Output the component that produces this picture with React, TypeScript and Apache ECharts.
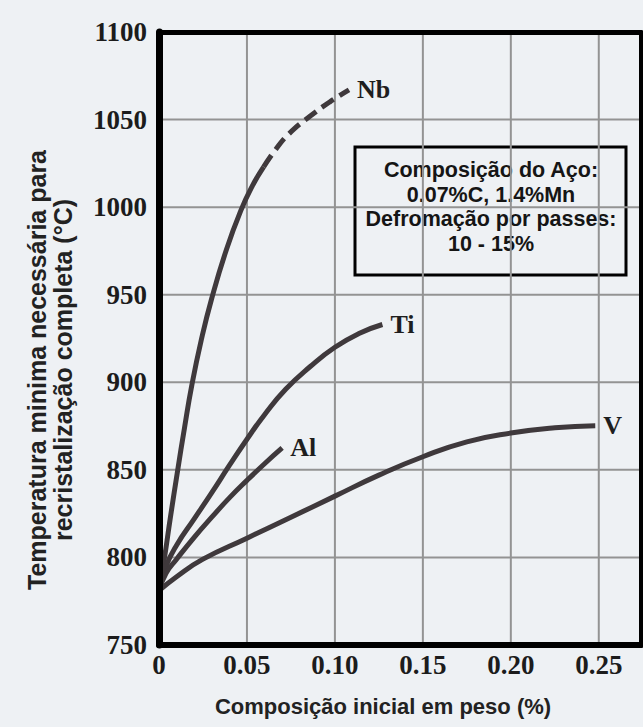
import { useEffect, useRef } from 'react';
import * as echarts from 'echarts';

// Composição inicial (% em peso) x temperatura mínima de recristalização (°C)
const nbSolid: [number, number][] = [
  [0, 781], [0.003, 799], [0.0065, 823], [0.0105, 849], [0.0145, 874], [0.0186, 898],
  [0.024, 924], [0.03, 948], [0.0384, 976], [0.0465, 998], [0.053, 1012], [0.0595, 1023],
];
const nbDashed: [number, number][] = [
  [0.0595, 1023], [0.066, 1032.5], [0.074, 1042], [0.086, 1052], [0.097, 1060], [0.108, 1067],
];
const tiCurve: [number, number][] = [
  [0, 781], [0.004, 795], [0.01, 807], [0.02, 822], [0.03, 837], [0.04, 852.5], [0.05, 867.5],
  [0.06, 881.5], [0.072, 896], [0.086, 909], [0.1, 920], [0.114, 928], [0.127, 933],
];
const alCurve: [number, number][] = [
  [0, 781], [0.004, 791], [0.01, 799], [0.02, 811.5], [0.03, 823], [0.04, 834], [0.05, 844],
  [0.06, 853.5], [0.07, 862.5],
];
const vCurve: [number, number][] = [
  [0, 781], [0.01, 789], [0.025, 799], [0.05, 811], [0.075, 823], [0.1, 835], [0.125, 847],
  [0.15, 857.5], [0.175, 866], [0.2, 871], [0.225, 874], [0.248, 875.2],
];

const xTickLabels = ['0', '0.05', '0.10', '0.15', '0.20', '0.25'];
const xGridValues = [0.05, 0.1, 0.15, 0.2, 0.25];
const yGridValues = [800, 850, 900, 950, 1000, 1050];
const xTitle = 'Composição inicial em peso (%)';
const yTitleLines = ['Temperatura minima necessária para', 'recristalização completa (°C)'];
const noteLines = ['Composição do Aço:', '0.07%C, 1.4%Mn', 'Defromação por passes:', '10 - 15%'];

const X_MIN = 0;
const X_MAX = 0.274;
const Y_MIN = 750;
const Y_MAX = 1100;

const BG = '#eef1f4';
const INK = '#3f393c';
const GRID_GRAY = '#939393';
const SERIF = '"Liberation Serif", "Times New Roman", serif';
const SANS = '"Liberation Sans", Arial, sans-serif';

const curveLabel = (name: string) => ({
  show: true,
  formatter: name,
  distance: 8,
  fontFamily: SERIF,
  fontWeight: 'bold' as const,
  fontSize: 26,
  color: '#1e1e1e',
});

const tickFont = {
  fontFamily: SERIF,
  fontWeight: 'bold' as const,
  fontSize: 27,
  color: '#1c1c1c',
};

export default function App() {
  const ref = useRef<HTMLDivElement>(null);

  useEffect(() => {
    if (!ref.current) return;
    const chart = echarts.init(ref.current, undefined, { renderer: 'svg' });

    const lineBase = {
      type: 'line' as const,
      xAxisIndex: 0,
      yAxisIndex: 0,
      showSymbol: false,
      symbol: 'none',
      smooth: 0.5,
      silent: true,
      z: 3,
    };

    // light grid lines, one straight segment per tick value
    const gridLine = (name: string, data: number[][]) => ({
      type: 'line' as const,
      name,
      data,
      xAxisIndex: 0,
      yAxisIndex: 0,
      showSymbol: false,
      symbol: 'none',
      silent: true,
      clip: false,
      z: 2,
      lineStyle: { color: GRID_GRAY, width: 2, opacity: 1 },
    });
    const gridSeries = [
      ...xGridValues.map((v) => gridLine(`grade x ${v}`, [[v, Y_MIN], [v, Y_MAX]])),
      ...yGridValues.map((v) => gridLine(`grade y ${v}`, [[X_MIN, v], [X_MAX, v]])),
    ];

    // frame-only axes close the box on the top and right sides
    const frameX = {
      type: 'value' as const,
      position: 'top' as const,
      min: X_MIN,
      max: X_MAX,
      interval: 0.05,
      z: 4,
      axisLine: { show: true, onZero: false, lineStyle: { color: '#000', width: 5 } },
      axisTick: { show: false },
      axisLabel: { show: false },
      splitLine: { show: false },
    };
    const frameY = {
      type: 'value' as const,
      position: 'right' as const,
      min: Y_MIN,
      max: Y_MAX,
      interval: 50,
      z: 4,
      axisLine: { show: true, onZero: false, lineStyle: { color: '#000', width: 4 } },
      axisTick: { show: false },
      axisLabel: { show: false },
      splitLine: { show: false },
    };

    chart.setOption({
      animation: false,
      backgroundColor: BG,
      grid: { left: 159, right: 2, top: 32, bottom: 82, show: false },
      xAxis: [
        {
          type: 'value',
          position: 'bottom',
          min: X_MIN,
          max: X_MAX,
          interval: 0.05,
          z: 4,
          axisLine: { show: true, onZero: false, lineStyle: { color: '#000', width: 6 } },
          axisTick: { show: false },
          splitLine: { show: false },
          axisLabel: {
            ...tickFont,
            showMaxLabel: false,
            margin: 6,
            formatter: (val: number) => {
              const i = Math.round(val / 0.05);
              return Math.abs(val - i * 0.05) < 1e-6 && xTickLabels[i] !== undefined ? xTickLabels[i] : '';
            },
          },
        },
        frameX,
      ],
      yAxis: [
        {
          type: 'value',
          position: 'left',
          min: Y_MIN,
          max: Y_MAX,
          interval: 50,
          z: 4,
          axisLine: { show: true, onZero: false, lineStyle: { color: '#000', width: 7 } },
          axisTick: { show: false },
          splitLine: { show: false },
          axisLabel: {
            ...tickFont,
            margin: 12,
            padding: [0, 0, 8, 0],
            formatter: (val: number) => String(val),
          },
        },
        frameY,
      ],
      series: [
        ...gridSeries,
        { ...lineBase, name: 'Nb', data: nbSolid, lineStyle: { color: INK, width: 5 } },
        {
          ...lineBase,
          name: 'Nb (extrapolado)',
          data: nbDashed,
          lineStyle: { color: INK, width: 5, type: [14, 7] },
          endLabel: curveLabel('Nb'),
        },
        { ...lineBase, name: 'Ti', data: tiCurve, lineStyle: { color: INK, width: 5 }, endLabel: curveLabel('Ti') },
        { ...lineBase, name: 'Al', data: alCurve, lineStyle: { color: INK, width: 5 }, endLabel: curveLabel('Al') },
        { ...lineBase, name: 'V', data: vCurve, lineStyle: { color: INK, width: 5 }, endLabel: curveLabel('V') },
      ],
      graphic: [
        {
          type: 'text',
          x: 50,
          y: 370,
          rotation: Math.PI / 2,
          style: {
            text: yTitleLines.join('\n'),
            font: `bold 25px ${SANS}`,
            fill: '#222',
            align: 'center',
            verticalAlign: 'middle',
            textAlign: 'center',
            textVerticalAlign: 'middle',
            lineHeight: 26,
          },
        },
        {
          type: 'text',
          x: 383,
          y: 706,
          style: {
            text: xTitle,
            font: `bold 22px ${SANS}`,
            fill: '#222',
            align: 'center',
            verticalAlign: 'middle',
            textAlign: 'center',
            textVerticalAlign: 'middle',
          },
        },
        {
          type: 'group',
          z: 10,
          children: [
            {
              type: 'rect',
              shape: { x: 355, y: 147, width: 271, height: 128 },
              style: { fill: BG, stroke: '#000', lineWidth: 3 },
            },
            {
              type: 'text',
              x: 491,
              y: 207,
              style: {
                text: noteLines.join('\n'),
                font: `bold 21.5px ${SANS}`,
                fill: '#151515',
                align: 'center',
                verticalAlign: 'middle',
                textAlign: 'center',
                textVerticalAlign: 'middle',
                lineHeight: 24.5,
              },
            },
          ],
        },
      ],
    });

    return () => chart.dispose();
  }, []);

  return (
    <div
      ref={ref}
      style={{ position: 'fixed', left: 0, top: 0, width: 643, height: 727 }}
    />
  );
}
